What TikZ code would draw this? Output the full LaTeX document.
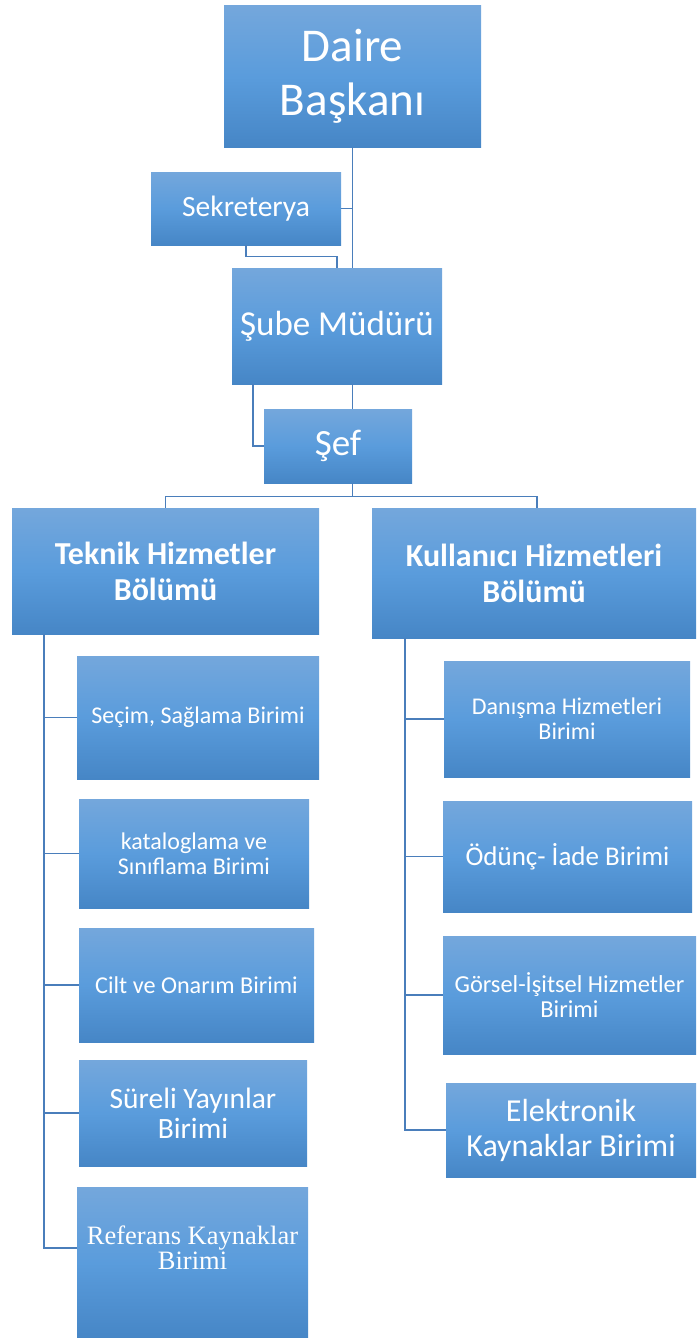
\documentclass[tikz,border=0pt]{standalone}
\usepackage{fontspec}
\setmainfont{Carlito}
\newfontfamily\serifFont{Liberation Serif}
\usepackage{xcolor}
\usepackage{tikz}
\usetikzlibrary{calc}
\definecolor{boxTop}{HTML}{74A7DC}
\definecolor{boxMid}{HTML}{5A9CDC}
\definecolor{boxBot}{HTML}{4686C6}
\definecolor{connLine}{HTML}{4A7EBB}
\tikzset{
  unitBox/.style={rectangle, top color=boxTop, bottom color=boxBot, middle color=boxMid,
    text=white, align=center, inner sep=0pt},
  txtOnly/.style={text=white, align=center, inner sep=0pt},
  conn/.style={draw=connLine, line width=1.4pt},
}
\newcommand{\boxFont}[2]{\fontsize{#1}{#2}\selectfont}

\begin{document}
\begin{tikzpicture}[x=1pt, y=-1pt]
  \useasboundingbox (0,0) rectangle (696,1338);

  % top of the chart
  \node[unitBox, minimum width=257pt, minimum height=141pt, font=\boxFont{47}{54}] (daire) at (352.5,76.5) {Daire\\Başkanı};
  \node[unitBox, minimum width=190pt, minimum height=73pt, font=\boxFont{29.5}{34}] (sekr) at (246,208.5) {Sekreterya};
  \node[unitBox, minimum width=210pt, minimum height=116pt, font=\boxFont{35}{40}] (sube) at (337,326) {Şube Müdürü};
  \node[unitBox, minimum width=148pt, minimum height=74pt, font=\boxFont{37}{42}] (sef) at (338,446) {Şef};

  % two departments
  \node[unitBox, minimum width=307pt, minimum height=126pt, font=\boxFont{32}{36}\bfseries] (teknik) at (165.5,571) {Teknik Hizmetler\\Bölümü};
  \node[unitBox, minimum width=324pt, minimum height=130pt, font=\boxFont{32}{36}\bfseries] (kull) at (534,573) {Kullanıcı Hizmetleri\\Bölümü};

  % units of the left department
  \node[unitBox, minimum width=242pt, minimum height=123pt, font=\boxFont{24}{25}] (secim) at (198,717.5) {Seçim, Sağlama Birimi};
  \node[unitBox, minimum width=230pt, minimum height=109pt, font=\boxFont{24}{25}] (katalog) at (194,853.5) {kataloglama ve\\Sınıflama Birimi};
  \node[unitBox, minimum width=235pt, minimum height=114pt, font=\boxFont{24.2}{25}] (cilt) at (196.5,985) {Cilt ve Onarım Birimi};
  \node[unitBox, minimum width=228pt, minimum height=106pt, font=\boxFont{29.5}{30}] (sureli) at (193,1113) {Süreli Yayınlar\\Birimi};
  \node[unitBox, minimum width=231pt, minimum height=151pt] (referans) at (192.5,1262.5) {};
  \node[txtOnly, font=\serifFont\boxFont{26.5}{25}] (referansTxt) at (192.5,1248) {Referans Kaynaklar\\Birimi};

  % units of the right department
  \node[unitBox, minimum width=246pt, minimum height=116pt, font=\boxFont{24}{25}] (danisma) at (567,719) {Danışma Hizmetleri\\Birimi};
  \node[unitBox, minimum width=249pt, minimum height=111pt, font=\boxFont{27}{30}] (odunc) at (567.5,856.5) {Ödünç- İade Birimi};
  \node[unitBox, minimum width=253pt, minimum height=118pt, font=\boxFont{24.4}{25}] (gorsel) at (569.5,995) {Görsel-İşitsel Hizmetler\\Birimi};
  \node[unitBox, minimum width=250pt, minimum height=94pt, font=\boxFont{32}{35}] (elektr) at (571,1130) {Elektronik\\Kaynaklar Birimi};

  % connectors
  \draw[conn] (daire.south) -- (daire.south |- sube.north);
  \draw[conn] (sekr.east) -- (sekr.east -| daire.south);
  \draw[conn] (sekr.south) -- ++(0,11) -| (sube.north);
  \draw[conn] (sube.south -| daire.south) -- (sef.north -| daire.south);
  \draw[conn] ([xshift=21pt]sube.south west) |- (sef.west);
  \draw[conn] (sef.south -| daire.south) -- ++(0,13) coordinate (bus);
  \draw[conn] (teknik.north) |- (bus) -| ([xshift=3pt]kull.north);

  \coordinate (tekTop) at ([xshift=32pt]teknik.south west);
  \foreach \u in {secim,katalog,cilt,sureli}
    \draw[conn] (tekTop) |- (\u.west);
  \draw[conn] (tekTop) |- (referans.west |- referansTxt);

  \coordinate (kulTop) at ([xshift=33pt]kull.south west);
  \foreach \u in {danisma,odunc,gorsel,elektr}
    \draw[conn] (kulTop) |- (\u.west);
\end{tikzpicture}
\end{document}
